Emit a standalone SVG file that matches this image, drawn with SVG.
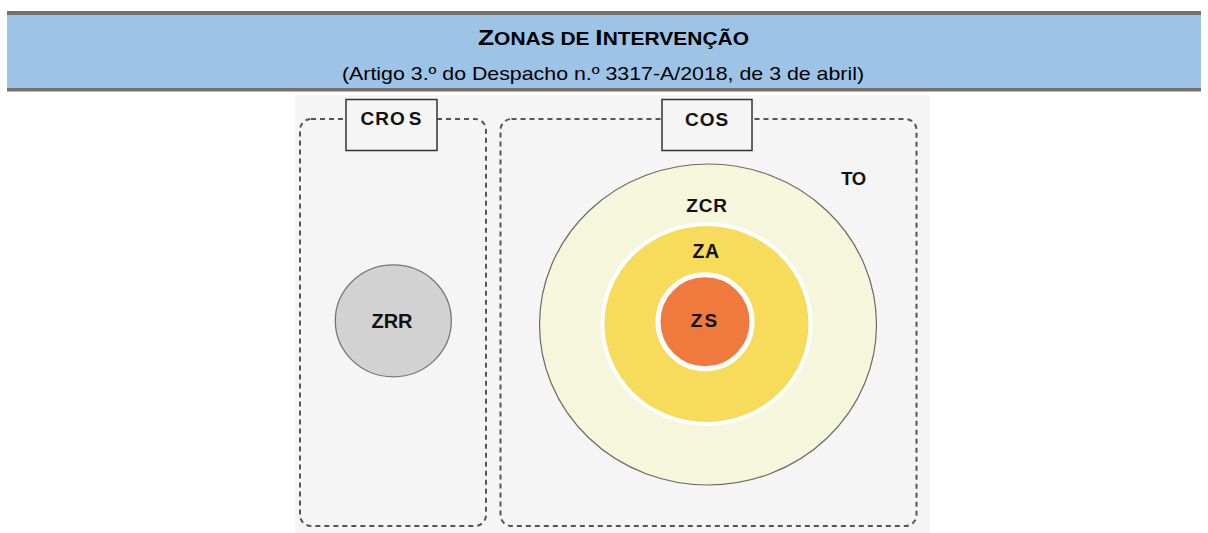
<svg xmlns="http://www.w3.org/2000/svg" width="1208" height="533" viewBox="0 0 1208 533">
  <style>
    .lbl { font-family: "Liberation Sans", Arial, sans-serif; font-weight: bold; fill: #111; text-anchor: middle; }
    .zone { stroke: #555; stroke-width: 2; stroke-dasharray: 5 4; fill: none; }
    .tag { fill: #f5f5f5; stroke: #333; stroke-width: 1.5; }
    .hdr { font-family: "Liberation Sans", Arial, sans-serif; fill: #000; }
  </style>
  <rect x="0" y="0" width="1208" height="533" fill="#ffffff"/>
  <g id="header">
    <rect x="7" y="11" width="1194" height="4" fill="#767171"/>
    <rect x="7" y="15" width="1194" height="73" fill="#9dc3e6"/>
    <rect x="7" y="88" width="1194" height="3.5" fill="#767171"/>
    <text class="hdr" x="478" y="45" font-weight="bold" font-size="22" textLength="271" lengthAdjust="spacingAndGlyphs">Z<tspan font-size="17.5">ONAS DE </tspan>I<tspan font-size="17.5">NTERVENÇÃO</tspan></text>
    <text class="hdr" x="342" y="80" font-size="19" textLength="522" lengthAdjust="spacingAndGlyphs">(Artigo 3.º do Despacho n.º 3317-A/2018, de 3 de abril)</text>
  </g>
  <rect x="295" y="95" width="635" height="438" fill="#f5f5f5"/>
  <g id="connectors"></g>
  <g id="cros">
    <rect class="zone" x="300" y="119" width="186" height="407" rx="11"/>
    <rect class="tag" x="346" y="99.5" width="91" height="51"/>
    <text class="lbl" x="391.5" y="125" font-size="19" letter-spacing="1">CRO<tspan dx="3">S</tspan></text>
  </g>
  <g id="cos">
    <rect class="zone" x="500.5" y="119" width="416" height="407" rx="11"/>
    <rect class="tag" x="662" y="99.5" width="90" height="51"/>
    <text class="lbl" x="707" y="125.5" font-size="19" letter-spacing="1">COS</text>
  </g>
  <g id="to">
    <text class="lbl" x="853.5" y="185" font-size="18.5" letter-spacing="-0.5">TO</text>
  </g>
  <g id="zcr">
    <ellipse cx="708" cy="324.5" rx="168.5" ry="160.5" fill="#f6f6dc" stroke="#6a6a60" stroke-width="1.2"/>
    <text class="lbl" x="707" y="211.5" font-size="19" letter-spacing="0.8">ZCR</text>
  </g>
  <g id="za">
    <ellipse cx="706.5" cy="324" rx="104" ry="100" fill="#f7dc5b" stroke="#ffffff" stroke-width="4"/>
    <text class="lbl" x="706" y="258" font-size="19.5" letter-spacing="0.5">ZA</text>
  </g>
  <g id="zs">
    <circle cx="705" cy="321.7" r="47" fill="#f07a3e" stroke="#ffffff" stroke-width="5"/>
    <text class="lbl" x="705" y="327" font-size="19" letter-spacing="2">ZS</text>
  </g>
  <g id="zrr">
    <ellipse cx="393.3" cy="320.8" rx="58" ry="56" fill="#d2d2d2" stroke="#777" stroke-width="1.3"/>
    <text class="lbl" x="392" y="327.5" font-size="20">ZRR</text>
  </g>
</svg>
